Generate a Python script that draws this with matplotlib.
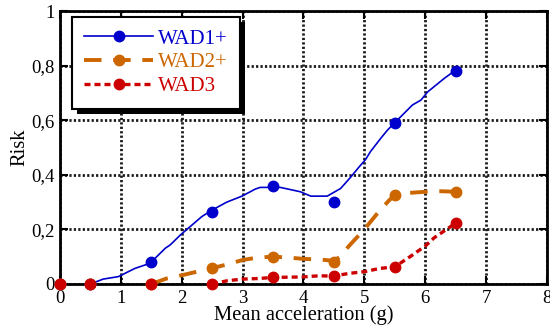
import matplotlib
matplotlib.use("Agg")
import matplotlib.pyplot as plt
from matplotlib.lines import Line2D
from matplotlib.patches import Rectangle

plt.rcParams['font.family'] = ['Liberation Serif', 'DejaVu Serif']

# Measured points (markers)
pt_x = [0, 0.5, 1.5, 2.5, 3.5, 4.5, 5.5, 6.5]
wad1_pts = [0, 0, 0.08, 0.265, 0.36, 0.30, 0.59, 0.78]
wad2_pts = [0, 0, 0, 0.057, 0.10, 0.082, 0.326, 0.337]
wad3_pts = [0, 0, 0, 0, 0.024, 0.029, 0.063, 0.223]

# Fitted curves
wad1_cx = [0.5, 0.71, 0.96, 1.23, 1.48, 1.73, 1.81, 1.98, 2.33, 2.5, 2.74, 2.99,
           3.21, 3.29, 3.62, 3.95, 4.12, 4.39, 4.61, 4.77, 4.91, 5.02, 5.10, 5.27,
           5.38, 5.49, 5.79, 5.93, 6.04, 6.31, 6.5]
wad1_cy = [0.0, 0.018, 0.027, 0.057, 0.076, 0.131, 0.143, 0.18, 0.247, 0.271, 0.30, 0.322,
           0.348, 0.354, 0.354, 0.338, 0.322, 0.322, 0.35, 0.39, 0.428, 0.456, 0.485, 0.534,
           0.564, 0.589, 0.656, 0.674, 0.704, 0.753, 0.784]

wad2_cx = [1.5, 1.75, 2.0, 2.25, 2.5, 2.75, 3.0, 3.25, 3.5, 3.75, 4.0, 4.25, 4.5,
           4.6, 4.75, 5.0, 5.2, 5.4, 5.5, 5.75, 6.0, 6.25, 6.5]
wad2_cy = [0.0, 0.02, 0.032, 0.045, 0.058, 0.072, 0.088, 0.097, 0.10, 0.097, 0.092, 0.09, 0.085,
           0.10, 0.14, 0.20, 0.255, 0.305, 0.326, 0.334, 0.338, 0.34, 0.338]

wad3_cx = [2.5, 2.75, 3.0, 3.25, 3.5, 3.75, 4.0, 4.25, 4.5, 4.75, 5.0, 5.25, 5.5,
           5.75, 6.0, 6.15, 6.25, 6.5]
wad3_cy = [0.0, 0.012, 0.018, 0.02, 0.024, 0.025, 0.026, 0.03, 0.029, 0.039, 0.045, 0.057, 0.063,
           0.10, 0.139, 0.17, 0.185, 0.223]

x_ticks = [0, 1, 2, 3, 4, 5, 6, 7, 8]
y_ticks = [0, 0.2, 0.4, 0.6, 0.8, 1]
y_labels = ['0', '0,2', '0,4', '0,6', '0,8', '1']
names = ['WAD1+', 'WAD2+', 'WAD3']

c1, c2, c3 = '#0000CC', '#CC6600', '#CC0000'

fig = plt.figure(figsize=(5.5, 3.27), dpi=100)
ax = fig.add_axes([0.109, 0.1315, 0.8855, 0.8345])

ax.set_xlim(0, 8)
ax.set_ylim(0, 1)
ax.set_xticks(x_ticks)
ax.set_yticks(y_ticks)
ax.set_yticklabels(y_labels)
ax.grid(True, color='0.1', linestyle=(0, (0.8, 0.8)), linewidth=2.0, zorder=0)
ax.set_axisbelow(True)

ls2 = (0, (4.5, 3))
ls3 = (0, (1.8, 1.2))
ax.plot(wad1_cx, wad1_cy, color=c1, lw=1.2, zorder=3)
ax.plot(wad2_cx, wad2_cy, color=c2, lw=2.8, linestyle=ls2, zorder=3)
ax.plot(wad3_cx, wad3_cy, color=c3, lw=2.4, linestyle=ls3, zorder=3)
ax.plot(pt_x, wad1_pts, 'o', color=c1, ms=7.5, zorder=4, clip_on=False)
ax.plot(pt_x, wad2_pts, 'o', color=c2, ms=7.5, zorder=5, clip_on=False)
ax.plot(pt_x, wad3_pts, 'o', color=c3, ms=7.5, zorder=6, clip_on=False)

for s in ax.spines.values():
    s.set_linewidth(2)
ax.tick_params(direction='in', top=True, right=True, length=6, width=1.5,
               labelsize=13.5, pad=4)
ax.set_xlabel('Mean acceleration (g)', fontsize=14.8, labelpad=-1)
ax.set_ylabel('Risk', fontsize=14.8, labelpad=1)

handles = [
    Line2D([], [], color=c1, lw=1.2, marker='o', ms=7.5),
    Line2D([], [], color=c2, lw=2.8, linestyle=ls2, marker='o', ms=7.5),
    Line2D([], [], color=c3, lw=2.4, linestyle=ls3, marker='o', ms=7.5),
]
leg = ax.legend(handles, names, loc='upper left', bbox_to_anchor=(0.024, 0.98),
                fancybox=False, framealpha=1, edgecolor='black', fontsize=15,
                handlelength=3.3, labelspacing=0.2, borderpad=0.6,
                handletextpad=0.25, borderaxespad=0)
leg.get_frame().set_linewidth(1.5)
for t, c in zip(leg.get_texts(), [c1, c2, c3]):
    t.set_color(c)
leg.set_zorder(10)

fig.canvas.draw()
bb = leg.get_window_extent().transformed(ax.transAxes.inverted())
sh = Rectangle((bb.x0 + 5 / 487, bb.y0 - 5 / 273), bb.width, bb.height,
               transform=ax.transAxes, facecolor='black', edgecolor='none', zorder=9)
ax.add_patch(sh)

fig.savefig('out.png', dpi=100)
